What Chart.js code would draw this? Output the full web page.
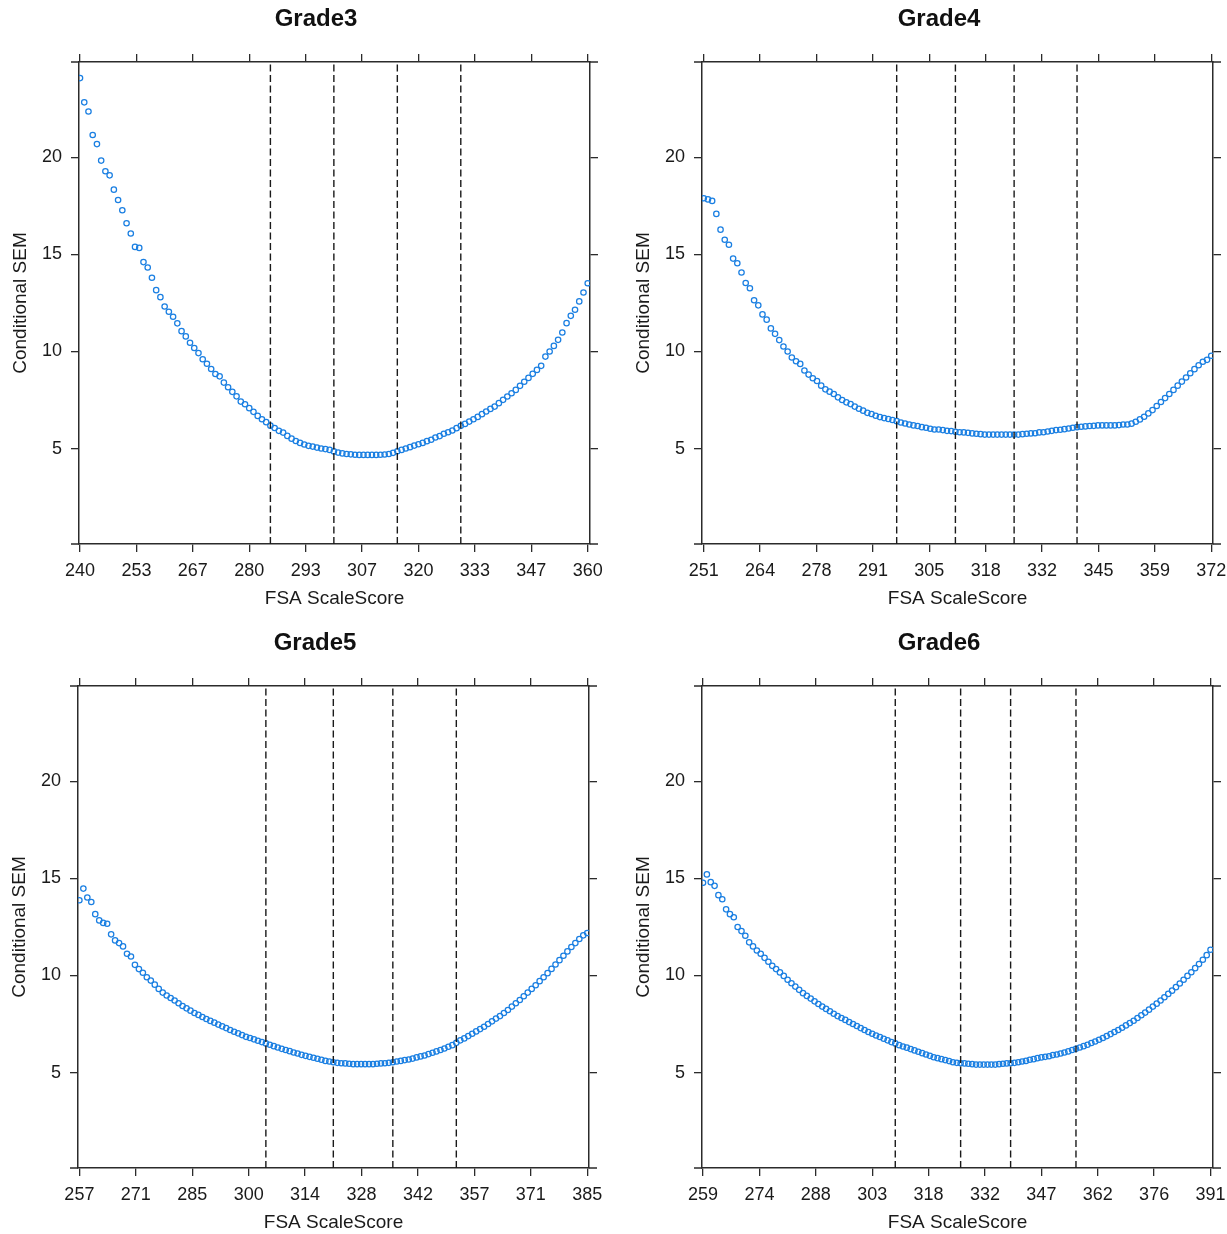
<!DOCTYPE html>
<html>
<head>
<meta charset="utf-8">
<script src="https://cdn.jsdelivr.net/npm/chart.js@4.4.1/dist/chart.umd.min.js"></script>
<style>
html, body { margin: 0; padding: 0; background: #fff; overflow: hidden; }
#wrap { position: relative; width: 1227px; height: 1234px; overflow: hidden; background: #fff; }
#wrap canvas { position: absolute; }
</style>
</head>
<body>
<div id="wrap">
  <canvas id="g3" width="632" height="610" style="left:0px;top:0px"></canvas>
  <canvas id="g4" width="632" height="610" style="left:623px;top:0px"></canvas>
  <canvas id="g5" width="632" height="610" style="left:-1px;top:624px"></canvas>
  <canvas id="g6" width="632" height="610" style="left:623px;top:624px"></canvas>
</div>
<script>
// ---------------- DATA ----------------
const semTickValues = [5, 10, 15, 20];
const semTickLabels = ['5', '10', '15', '20'];

// Grade 3: scale scores 240..360
const grade3Start = 240;
const grade3SEM = [
  24.09, 22.84, 22.37, 21.16, 20.69, 19.84, 19.29, 19.08, 18.34, 17.81,
  17.28, 16.61, 16.08, 15.39, 15.34, 14.61, 14.33, 13.80, 13.16, 12.80,
  12.32, 12.05, 11.79, 11.45, 11.05, 10.78, 10.45, 10.18, 9.92, 9.60,
  9.37, 9.10, 8.84, 8.72, 8.40, 8.16, 7.92, 7.69, 7.42, 7.28,
  7.08, 6.89, 6.68, 6.51, 6.36, 6.18, 6.06, 5.91, 5.82, 5.65,
  5.51, 5.39, 5.29, 5.21, 5.14, 5.10, 5.05, 5.00, 4.97, 4.93,
  4.85, 4.79, 4.75, 4.72, 4.70, 4.68, 4.67, 4.67, 4.67, 4.67,
  4.67, 4.68, 4.69, 4.72, 4.78, 4.86, 4.93, 5.00, 5.07, 5.15,
  5.22, 5.29, 5.38, 5.45, 5.57, 5.64, 5.76, 5.84, 5.93, 6.05,
  6.17, 6.27, 6.39, 6.51, 6.63, 6.77, 6.91, 7.04, 7.16, 7.34,
  7.51, 7.68, 7.85, 8.02, 8.23, 8.44, 8.64, 8.85, 9.05, 9.26,
  9.74, 10.00, 10.29, 10.60, 10.98, 11.46, 11.84, 12.15, 12.58, 13.04,
  13.52
];
const grade3Cuts = [285, 300, 315, 330];
const grade3TickValues = [240, 253.33, 266.67, 280, 293.33, 306.67, 320, 333.33, 346.67, 360];
const grade3TickLabels = ['240', '253', '267', '280', '293', '307', '320', '333', '347', '360'];

// Grade 4: scale scores 251..372
const grade4Start = 251;
const grade4SEM = [
  17.90, 17.84, 17.76, 17.09, 16.28, 15.76, 15.50, 14.79, 14.55, 14.07,
  13.53, 13.26, 12.64, 12.38, 11.91, 11.64, 11.19, 10.91, 10.59, 10.26,
  10.00, 9.69, 9.50, 9.36, 9.02, 8.81, 8.62, 8.48, 8.24, 8.05,
  7.93, 7.81, 7.64, 7.50, 7.38, 7.29, 7.16, 7.05, 6.95, 6.84,
  6.78, 6.69, 6.62, 6.57, 6.52, 6.47, 6.41, 6.34, 6.29, 6.24,
  6.19, 6.16, 6.10, 6.07, 6.02, 5.98, 5.98, 5.95, 5.91, 5.90,
  5.86, 5.84, 5.83, 5.81, 5.78, 5.76, 5.74, 5.72, 5.72, 5.72,
  5.72, 5.72, 5.72, 5.72, 5.72, 5.72, 5.74, 5.76, 5.78, 5.79,
  5.83, 5.84, 5.88, 5.91, 5.95, 5.97, 6.00, 6.03, 6.07, 6.10,
  6.12, 6.14, 6.16, 6.17, 6.19, 6.19, 6.19, 6.19, 6.19, 6.21,
  6.24, 6.24, 6.28, 6.38, 6.50, 6.64, 6.81, 6.98, 7.19, 7.40,
  7.60, 7.81, 8.02, 8.24, 8.45, 8.66, 8.88, 9.09, 9.29, 9.47,
  9.57, 9.78
];
const grade4Cuts = [297, 311, 325, 340];
const grade4TickValues = [251, 264.44, 277.89, 291.33, 304.78, 318.22, 331.67, 345.11, 358.56, 372];
const grade4TickLabels = ['251', '264', '278', '291', '305', '318', '332', '345', '359', '372'];

// Grade 5: scale scores 257..385
const grade5Start = 257;
const grade5SEM = [
  13.88, 14.48, 14.02, 13.79, 13.16, 12.84, 12.71, 12.67, 12.12, 11.81,
  11.67, 11.50, 11.12, 10.98, 10.55, 10.33, 10.14, 9.91, 9.74, 9.53,
  9.31, 9.12, 8.97, 8.84, 8.71, 8.57, 8.43, 8.31, 8.19, 8.07,
  7.97, 7.86, 7.76, 7.66, 7.57, 7.47, 7.38, 7.29, 7.19, 7.10,
  7.02, 6.93, 6.84, 6.78, 6.71, 6.64, 6.57, 6.50, 6.43, 6.36,
  6.29, 6.22, 6.16, 6.10, 6.03, 5.98, 5.91, 5.86, 5.81, 5.76,
  5.71, 5.66, 5.60, 5.57, 5.53, 5.50, 5.48, 5.47, 5.45, 5.43,
  5.43, 5.43, 5.43, 5.43, 5.43, 5.45, 5.47, 5.48, 5.50, 5.53,
  5.57, 5.60, 5.64, 5.67, 5.72, 5.78, 5.83, 5.88, 5.95, 6.02,
  6.09, 6.16, 6.24, 6.33, 6.41, 6.53, 6.66, 6.76, 6.88, 7.00,
  7.12, 7.24, 7.36, 7.50, 7.64, 7.78, 7.91, 8.07, 8.22, 8.40,
  8.57, 8.74, 8.93, 9.12, 9.31, 9.50, 9.71, 9.91, 10.12, 10.34,
  10.57, 10.79, 11.02, 11.24, 11.47, 11.67, 11.88, 12.07, 12.19
];
const grade5Cuts = [304, 321, 336, 352];
const grade5TickValues = [257, 271.22, 285.44, 299.67, 313.89, 328.11, 342.33, 356.56, 370.78, 385];
const grade5TickLabels = ['257', '271', '285', '300', '314', '328', '342', '357', '371', '385'];

// Grade 6: scale scores 259..391
const grade6Start = 259;
const grade6SEM = [
  14.78, 15.21, 14.81, 14.62, 14.14, 13.93, 13.41, 13.16, 13.00, 12.50,
  12.29, 12.05, 11.71, 11.50, 11.29, 11.12, 10.91, 10.71, 10.50, 10.33,
  10.16, 9.98, 9.78, 9.60, 9.43, 9.26, 9.09, 8.95, 8.81, 8.67,
  8.53, 8.40, 8.28, 8.16, 8.03, 7.91, 7.81, 7.71, 7.60, 7.50,
  7.40, 7.29, 7.19, 7.09, 7.00, 6.91, 6.83, 6.74, 6.66, 6.57,
  6.50, 6.41, 6.34, 6.28, 6.21, 6.14, 6.07, 6.00, 5.93, 5.86,
  5.79, 5.74, 5.69, 5.64, 5.59, 5.53, 5.50, 5.48, 5.47, 5.45,
  5.43, 5.41, 5.41, 5.41, 5.41, 5.41, 5.41, 5.43, 5.45, 5.47,
  5.48, 5.50, 5.53, 5.57, 5.60, 5.66, 5.69, 5.74, 5.78, 5.81,
  5.84, 5.90, 5.93, 5.98, 6.03, 6.09, 6.16, 6.22, 6.29, 6.36,
  6.43, 6.52, 6.60, 6.69, 6.78, 6.88, 6.98, 7.09, 7.19, 7.31,
  7.43, 7.55, 7.67, 7.81, 7.95, 8.09, 8.24, 8.40, 8.55, 8.71,
  8.88, 9.05, 9.22, 9.40, 9.59, 9.78, 9.98, 10.17, 10.38, 10.59,
  10.81, 11.05, 11.33
];
const grade6Cuts = [309, 326, 339, 356];
const grade6TickValues = [259, 273.67, 288.33, 303, 317.67, 332.33, 347, 361.67, 376.33, 391];
const grade6TickLabels = ['259', '274', '288', '303', '318', '332', '347', '362', '376', '391'];

// ---------------- STYLE / BUILD ----------------
Chart.defaults.font.family = "'Liberation Sans', Arial, Helvetica, sans-serif";
Chart.defaults.color = '#1a1a1a';

const SEM_MIN = 0.08, SEM_MAX = 24.92;
const FRAME = '#2b2b2b';
const POINT_COLOR = '#1a7fe2';

const frameExt = {
  id: 'frameExt',
  afterDraw(chart) {
    const { ctx, chartArea: a } = chart;
    ctx.save();
    ctx.strokeStyle = FRAME;
    ctx.lineWidth = 1.5;
    ctx.beginPath();
    [a.top, a.bottom].forEach(y => {
      ctx.moveTo(a.left - 8, y); ctx.lineTo(a.left, y);
      ctx.moveTo(a.right, y); ctx.lineTo(a.right + 8, y);
    });
    ctx.stroke();
    ctx.restore();
  }
};

function buildChart(id, title, startScore, sem, cuts, tickValues, tickLabels, xMin, xMax) {
  const points = sem.map((v, i) => ({ x: startScore + i, y: v }));
  const cutSets = cuts.map(c => ({
    data: [{ x: c, y: SEM_MIN }, { x: c, y: SEM_MAX }],
    showLine: true,
    borderColor: '#1a1a1a',
    borderWidth: 1.4,
    borderDash: [7, 3.5],
    pointRadius: 0,
    order: 1
  }));
  const gridOpts = { drawOnChartArea: false, drawTicks: true, tickLength: 8, color: FRAME, lineWidth: 1.3 };
  const borderOpts = { display: true, color: FRAME, width: 1.5 };
  const xAxis = (pos, labels) => ({
    type: 'linear', position: pos, min: xMin, max: xMax,
    afterBuildTicks: s => { s.ticks = tickValues.map(v => ({ value: v })); },
    afterFit: s => { s.height = pos === 'bottom' ? 66 : 28.2; },
    ticks: { display: labels, autoSkip: false, maxRotation: 0, minRotation: 0, padding: 8,
             font: { size: 18 }, color: '#1a1a1a', callback: (v, i) => tickLabels[i] },
    grid: gridOpts, border: borderOpts,
    title: { display: labels, text: 'FSA ScaleScore', font: { size: 19 }, color: '#1a1a1a',
             padding: { top: 0, bottom: 0 } }
  });
  const yAxis = (pos, labels) => ({
    type: 'linear', position: pos, min: SEM_MIN, max: SEM_MAX,
    afterBuildTicks: s => { s.ticks = semTickValues.map(v => ({ value: v })); },
    afterFit: s => { s.width = pos === 'left' ? 79 : 42; },
    ticks: { display: labels, padding: 9, font: { size: 18 }, color: '#1a1a1a',
             callback: (v, i) => semTickLabels[i] },
    grid: gridOpts, border: borderOpts,
    title: { display: labels, text: 'Conditional SEM', font: { size: 19 }, color: '#1a1a1a',
             padding: { top: 9, bottom: 0 } }
  });
  return new Chart(document.getElementById(id), {
    type: 'scatter',
    data: {
      datasets: [
        ...cutSets,
        {
          data: points,
          showLine: false,
          pointStyle: 'circle',
          pointRadius: 2.7,
          pointBorderWidth: 1.25,
          borderWidth: 1.25,
          borderColor: POINT_COLOR,
          pointBorderColor: POINT_COLOR,
          backgroundColor: 'rgba(0,0,0,0)',
          pointBackgroundColor: 'rgba(0,0,0,0)',
          order: 2
        }
      ]
    },
    options: {
      responsive: false,
      animation: false,
      devicePixelRatio: 1,
      events: [],
      layout: { padding: 0 },
      plugins: {
        legend: { display: false },
        tooltip: { enabled: false },
        title: { display: true, text: title, color: '#111',
                 font: { size: 24, weight: 'bold' }, padding: { top: 5, bottom: 0 } }
      },
      scales: {
        x: xAxis('bottom', true),
        x2: xAxis('top', false),
        y: yAxis('left', true),
        y2: yAxis('right', false)
      }
    },
    plugins: [frameExt]
  });
}

buildChart('g3', 'Grade3', grade3Start, grade3SEM, grade3Cuts, grade3TickValues, grade3TickLabels, 239.76, 360.54);
buildChart('g4', 'Grade4', grade4Start, grade4SEM, grade4Cuts, grade4TickValues, grade4TickLabels, 250.58, 372.42);
buildChart('g5', 'Grade5', grade5Start, grade5SEM, grade5Cuts, grade5TickValues, grade5TickLabels, 256.65, 385.44);
buildChart('g6', 'Grade6', grade6Start, grade6SEM, grade6Cuts, grade6TickValues, grade6TickLabels, 258.73, 391.64);
</script>
</body>
</html>
